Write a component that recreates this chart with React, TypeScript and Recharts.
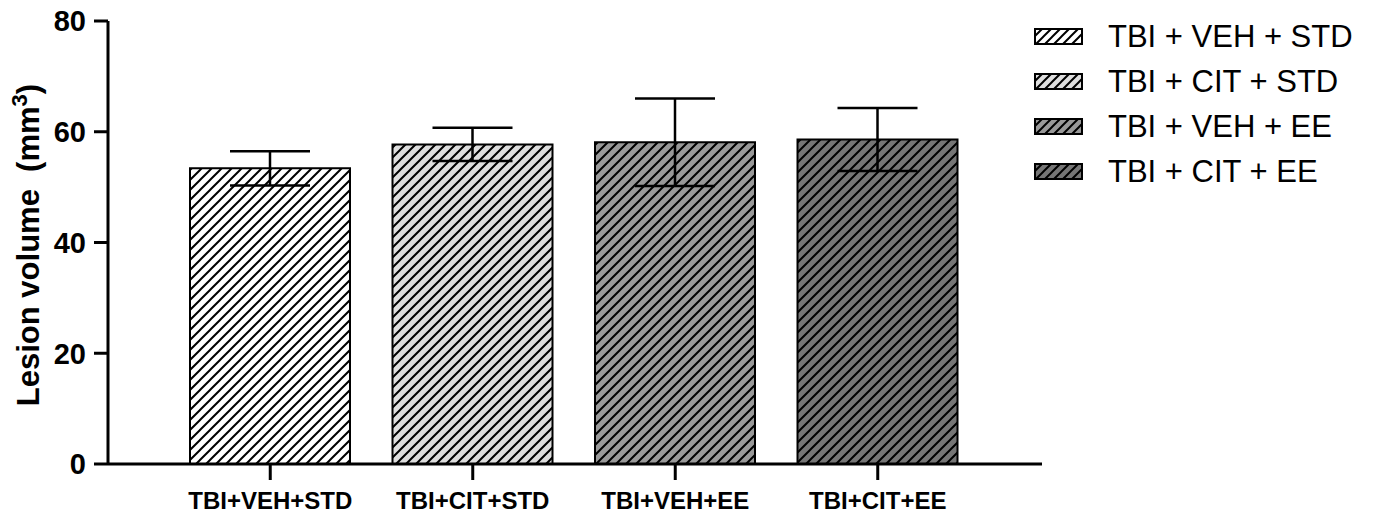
import React from 'react';
import { BarChart, Bar, XAxis, YAxis, ErrorBar, Cell, Legend, Label } from 'recharts';

// Lesion volume per treatment group (mean ± SEM, mm³)
const groups = ['TBI+VEH+STD', 'TBI+CIT+STD', 'TBI+VEH+EE', 'TBI+CIT+EE'];
const legendNames = ['TBI + VEH + STD', 'TBI + CIT + STD', 'TBI + VEH + EE', 'TBI + CIT + EE'];
const meanVolume = [53.4, 57.7, 58.1, 58.6];
const semVolume = [3.1, 3.0, 7.9, 5.7];
const yTicks = [0, 20, 40, 60, 80];
const groupFills = ['#ffffff', '#dedede', '#999999', '#767676'];

const FONT = '"Liberation Sans", Arial, Helvetica, sans-serif';

const data = groups.map((group, i) => ({
  group,
  volume: meanVolume[i],
  err: semVolume[i],
}));

// Diagonal hatch ("/") over a solid background
const Hatch = ({ id, fill, size = 10 }: { id: string; fill: string; size?: number }) => (
  <pattern id={id} patternUnits="userSpaceOnUse" width={size} height={size}>
    <rect width={size} height={size} fill={fill} />
    <path
      d={`M-1,1 l2,-2 M0,${size} l${size},-${size} M${size - 1},${size + 1} l2,-2`}
      stroke="#000"
      strokeWidth={2}
    />
  </pattern>
);

const LegendBox = () => (
  <div style={{ fontFamily: FONT }}>
    {legendNames.map((name, i) => (
      <div key={name} style={{ display: 'flex', alignItems: 'center', height: 45 }}>
        <svg width={49} height={17} style={{ marginRight: 25, display: 'block' }}>
          <defs>
            <Hatch id={`legend-hatch-${i}`} fill={groupFills[i]} size={9} />
          </defs>
          <rect
            x={1}
            y={1}
            width={47}
            height={15}
            fill={`url(#legend-hatch-${i})`}
            stroke="#000"
            strokeWidth={2}
          />
        </svg>
        <span style={{ fontSize: 31, lineHeight: '45px', color: '#000', whiteSpace: 'pre' }}>{name}</span>
      </div>
    ))}
  </div>
);

const YAxisTitle = () => (
  <text
    x={39}
    y={245}
    transform="rotate(-90, 39, 245)"
    textAnchor="middle"
    fill="#000"
    fontFamily={FONT}
    fontWeight={700}
    fontSize={31}
    style={{ whiteSpace: 'pre' }}
  >
    <tspan>{'Lesion volume  (mm'}</tspan>
    <tspan fontSize={22} dy={-12}>3</tspan>
    <tspan dy={12}>)</tspan>
  </text>
);

export default function App() {
  return (
    <div style={{ position: 'absolute', left: 0, top: 0, background: '#fff' }}>
      <BarChart
        width={1373}
        height={516}
        data={data}
        margin={{ top: 21, right: 331, bottom: 0, left: 0 }}
        barSize={160}
      >
        <defs>
          {groupFills.map((f, i) => (
            <Hatch key={i} id={`bar-hatch-${i}`} fill={f} />
          ))}
        </defs>
        <XAxis
          dataKey="group"
          height={52}
          interval={0}
          padding={{ left: 61, right: 63 }}
          axisLine={{ stroke: '#000', strokeWidth: 3 }}
          tickLine={{ stroke: '#000', strokeWidth: 3 }}
          tickSize={16}
          tickMargin={12}
          tick={{ fill: '#000', fontSize: 24, fontWeight: 700, fontFamily: FONT }}
        />
        <YAxis
          width={108}
          domain={[0, 80]}
          ticks={yTicks}
          interval={0}
          axisLine={{ stroke: '#000', strokeWidth: 3 }}
          tickLine={{ stroke: '#000', strokeWidth: 3 }}
          tickSize={14}
          tickMargin={8}
          tick={{ fill: '#000', fontSize: 29, fontWeight: 700, fontFamily: FONT }}
          label={<Label content={() => <YAxisTitle />} />}
        />
        <Bar dataKey="volume" isAnimationActive={false} stroke="#000" strokeWidth={2}>
          {data.map((d, i) => (
            <Cell key={d.group} fill={`url(#bar-hatch-${i})`} />
          ))}
          <ErrorBar dataKey="err" width={40} stroke="#000" strokeWidth={2.5} direction="y" isAnimationActive={false} />
        </Bar>
        <Legend
          layout="vertical"
          align="center"
          verticalAlign="middle"
          content={() => <LegendBox />}
          wrapperStyle={{ position: 'absolute', left: 1034, top: 14, width: 339 }}
        />
      </BarChart>
    </div>
  );
}
